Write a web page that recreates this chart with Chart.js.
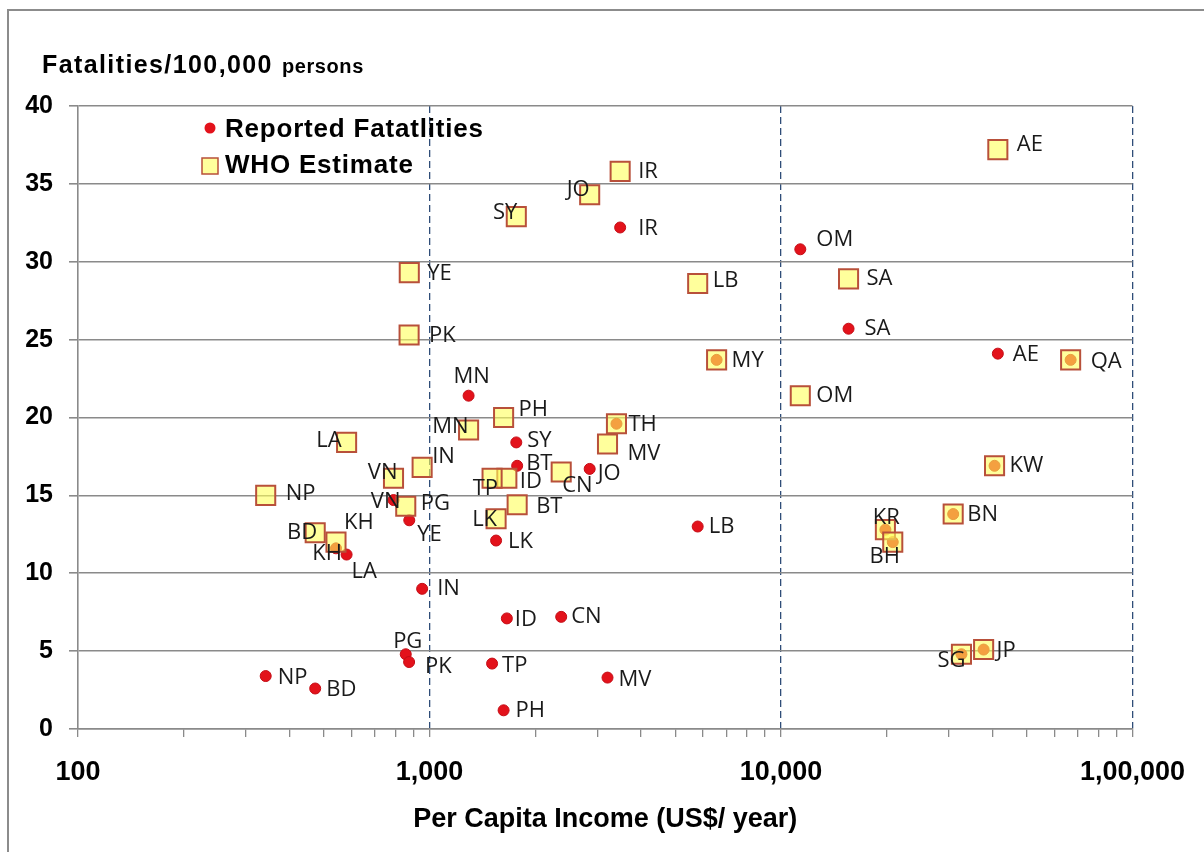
<!DOCTYPE html>
<html lang="en">

<head>
    <meta charset="UTF-8">
    <title>Road fatalities vs per capita income</title>
    <script src="https://cdn.jsdelivr.net/npm/chart.js"></script>

    <style>
        body {
            margin: 0;
            background: #fff;
        }

        .container {
            width: 1204px;
            height: 852px;
        }
    </style>
</head>

<body>
    <div class="container">
        <canvas id="myChart" width="1204" height="852"></canvas>
    </div>
    <script>
        // country codes, per capita income (US$/year) and fatalities per 100,000 persons
        const countries = ['NP', 'BD', 'PG', 'PK', 'IN', 'ID', 'CN', 'TP', 'MV', 'PH', 'LA', 'KH', 'YE', 'VN', 'LK', 'BT', 'SY',
            'JO', 'MN', 'IR', 'OM', 'SA', 'AE', 'LB', 'MY', 'QA', 'TH', 'KW', 'BN', 'KR', 'BH', 'SG', 'JP'];
        const income = [342, 473, 856, 875, 953, 1660, 2370, 1507, 3210, 1625, 581, 542, 876, 790, 1547, 1776, 1766,
            2856, 1292, 3487, 11350, 15570, 41400, 5795, 6560, 66700, 3404, 40520, 30900, 19820, 20800, 32620, 37720];
        const reported = [3.4, 2.6, 4.8, 4.3, 9.0, 7.1, 7.2, 4.2, 3.3, 1.2, 11.2, 11.6, 13.4, 14.7, 12.1, 16.9, 18.4,
            16.7, 21.4, 32.2, 30.8, 25.7, 24.1, 13.0, 23.7, 23.7, 19.6, 16.9, 13.8, 12.8, 12.0, 4.8, 5.1];
        const whoEstimate = [15.0, 12.6, 14.3, 25.3, 16.8, 16.1, 16.5, 16.1, 18.3, 20.0, 18.4, 12.0, 29.3, 16.1, 13.5, 14.4, 32.9,
            34.3, 19.2, 35.8, 21.4, 28.9, 37.2, 28.6, 23.7, 23.7, 19.6, 16.9, 13.8, 12.8, 12.0, 4.8, 5.1];

        const xTickLabels = ['100', '1,000', '10,000', '1,00,000'];
        const yTicks = [0, 5, 10, 15, 20, 25, 30, 35, 40];

        // where each code sits next to its marker: [dx, dy, align]
        const reportedTags = {
            NP: [12, 2, 'left'], BD: [11, 1, 'left'], PG: [2, -13, 'center'], PK: [16, 5, 'left'],
            IN: [15, 0, 'left'], ID: [8, 1, 'left'], CN: [10, 0, 'left'], TP: [10, 2, 'left'],
            MV: [11, 2, 'left'], PH: [12, 0, 'left'], LA: [5, 17, 'left'], KH: [6, 5, 'right'],
            YE: [8, 14, 'left'], VN: [7, 2, 'right'], LK: [12, 1, 'left'], BT: [9, -2, 'left'],
            SY: [11, -2, 'left'], JO: [8, 5, 'left'], MN: [3, -19, 'center'], IR: [18, 1, 'left'],
            OM: [16, -10, 'left'], SA: [16, 0, 'left'], AE: [15, 1, 'left'], LB: [11, 0, 'left']
        };
        const whoTags = {
            AE: [19, -5, 'left'], IR: [18, 0, 'left'], JO: [0, -5, 'right'], SY: [1, -4, 'right'],
            YE: [18, 1, 'left'], PK: [20, 1, 'left'], LB: [15, -3, 'left'], SA: [18, 0, 'left'],
            MY: [15, 1, 'left'], QA: [20, 2, 'left'], OM: [16, 0, 'left'], PH: [15, -8, 'left'],
            MN: [0, -3, 'right'], TH: [12, 1, 'left'], LA: [-5, -2, 'right'], MV: [20, 10, 'left'],
            IN: [10, -11, 'left'], CN: [1, 14, 'left'], VN: [4, -6, 'right'], TP: [6, 10, 'right'],
            ID: [13, 3, 'left'], NP: [20, -2, 'left'], PG: [15, -3, 'left'], BT: [19, 2, 'left'],
            LK: [1, 1, 'right'], BD: [2, 0, 'right'], KH: [8, -19, 'left'], KW: [15, 0, 'left'],
            BN: [14, 1, 'left'], KR: [1, -12, 'center'], BH: [-8, 15, 'center'], SG: [4, 6, 'right'],
            JP: [13, 1, 'left']
        };

        const GRID_GREY = '#8a8a8a';
        const DOT_RED = '#e3121b';
        const SQ_FILL = 'rgba(255, 255, 90, 0.6)';
        const SQ_EDGE = '#b8503a';

        Chart.defaults.font.family = '"Liberation Sans", Arial, sans-serif';
        Chart.defaults.color = '#000';

        const isDecade = v => Math.abs(Math.log10(v) - Math.round(Math.log10(v))) < 1e-9;

        // frame, y title and legend
        const decorations = {
            id: 'decorations',
            beforeDraw(chart) {
                const c = chart.ctx;
                c.save();
                c.strokeStyle = '#8c8c8c';
                c.lineWidth = 2;
                c.beginPath();
                c.moveTo(8, 852);
                c.lineTo(8, 10);
                c.lineTo(1204, 10);
                c.stroke();

                c.fillStyle = '#000';
                c.textBaseline = 'alphabetic';
                c.letterSpacing = '1.4px';
                c.font = 'bold 25px "Liberation Sans", Arial';
                const head = 'Fatalities/100,000';
                c.fillText(head, 42, 73);
                const w = c.measureText(head).width;
                c.letterSpacing = '0.6px';
                c.font = 'bold 20px "Liberation Sans", Arial';
                c.fillText('persons', 42 + w + 9, 73);
                c.restore();
            },
            beforeDatasetsDraw(chart) {
                const c = chart.ctx;
                c.save();
                c.beginPath();
                c.arc(210, 128, 5.5, 0, Math.PI * 2);
                c.fillStyle = DOT_RED;
                c.fill();

                c.fillStyle = SQ_FILL;
                c.fillRect(202, 158, 16, 16);
                c.strokeStyle = SQ_EDGE;
                c.lineWidth = 1.5;
                c.strokeRect(202, 158, 16, 16);

                c.fillStyle = '#000';
                c.letterSpacing = '0.8px';
                c.font = 'bold 26px "Liberation Sans", Arial';
                c.textBaseline = 'middle';
                c.fillText('Reported Fatatlities', 225, 130);
                c.fillText('WHO Estimate', 225, 166);
                c.restore();
            },
            afterDatasetsDraw(chart) {
                const c = chart.ctx;
                c.save();
                c.fillStyle = '#1a1a1a';
                c.font = '22px "Open Sans", sans-serif';
                c.textBaseline = 'middle';
                const tagSet = [[1, reportedTags], [0, whoTags]];
                tagSet.forEach(([dsIndex, tags]) => {
                    const meta = chart.getDatasetMeta(dsIndex);
                    meta.data.forEach((pt, i) => {
                        const tag = tags[countries[i]];
                        if (!tag) return;
                        c.textAlign = tag[2];
                        c.fillText(countries[i], pt.x + tag[0], pt.y + tag[1]);
                    });
                });
                c.restore();
            }
        };

        const ctx = document.getElementById('myChart').getContext('2d');

        const myChart = new Chart(ctx, {
            type: 'scatter',
            data: {
                datasets: [{
                    label: 'WHO Estimate',
                    data: countries.map((c, i) => ({ x: income[i], y: whoEstimate[i] })),
                    pointStyle: 'rect',
                    pointRadius: 13.5,
                    backgroundColor: SQ_FILL,
                    borderColor: SQ_EDGE,
                    borderWidth: 2,
                    order: 0
                }, {
                    label: 'Reported Fatatlities',
                    data: countries.map((c, i) => ({ x: income[i], y: reported[i] })),
                    pointStyle: 'circle',
                    pointRadius: 5.5,
                    backgroundColor: DOT_RED,
                    borderColor: '#c40d16',
                    borderWidth: 1,
                    order: 1
                }]
            },
            options: {
                responsive: false,
                devicePixelRatio: 1,
                animation: false,
                events: [],
                layout: {
                    padding: { top: 106, right: 69, left: 0, bottom: 0 }
                },
                plugins: {
                    legend: { display: false },
                    tooltip: { enabled: false }
                },
                scales: {
                    x: {
                        type: 'logarithmic',
                        min: 100,
                        max: 100000,
                        afterBuildTicks: (scale) => {
                            const ticks = [];
                            for (let d = 100; d < 100000; d *= 10) {
                                for (let m = 1; m < 10; m++) ticks.push({ value: d * m });
                            }
                            ticks.push({ value: 100000 });
                            scale.ticks = ticks;
                        },
                        afterFit: (scale) => { scale.height = 123; },
                        ticks: {
                            autoSkip: false,
                            maxRotation: 0,
                            padding: 19,
                            font: { size: 27, weight: 'bold' },
                            callback: (v) => isDecade(v) ? xTickLabels[Math.round(Math.log10(v)) - 2] : ''
                        },
                        grid: {
                            color: (c) => (c.tick && isDecade(c.tick.value) && c.tick.value > 100) ? '#2f4d78' : 'transparent',
                            lineWidth: 1.3,
                            tickColor: GRID_GREY,
                            tickLength: 8,
                            tickWidth: 1.3
                        },
                        border: { color: GRID_GREY, width: 1.6, dash: [7, 4] },
                        title: {
                            display: true,
                            text: 'Per Capita Income (US$/ year)',
                            font: { size: 27, weight: 'bold' },
                            padding: { top: 0, bottom: 16 }
                        }
                    },
                    y: {
                        min: 0,
                        max: 40,
                        afterBuildTicks: (scale) => { scale.ticks = yTicks.map(v => ({ value: v })); },
                        afterFit: (scale) => { scale.width = 78; },
                        ticks: {
                            padding: 16,
                            font: { size: 25, weight: 'bold' }
                        },
                        grid: {
                            color: GRID_GREY,
                            lineWidth: 1.6,
                            tickColor: GRID_GREY,
                            tickLength: 9
                        },
                        border: { color: GRID_GREY, width: 1.6 }
                    }
                }
            },
            plugins: [decorations]
        });
    </script>
</body>

</html>
